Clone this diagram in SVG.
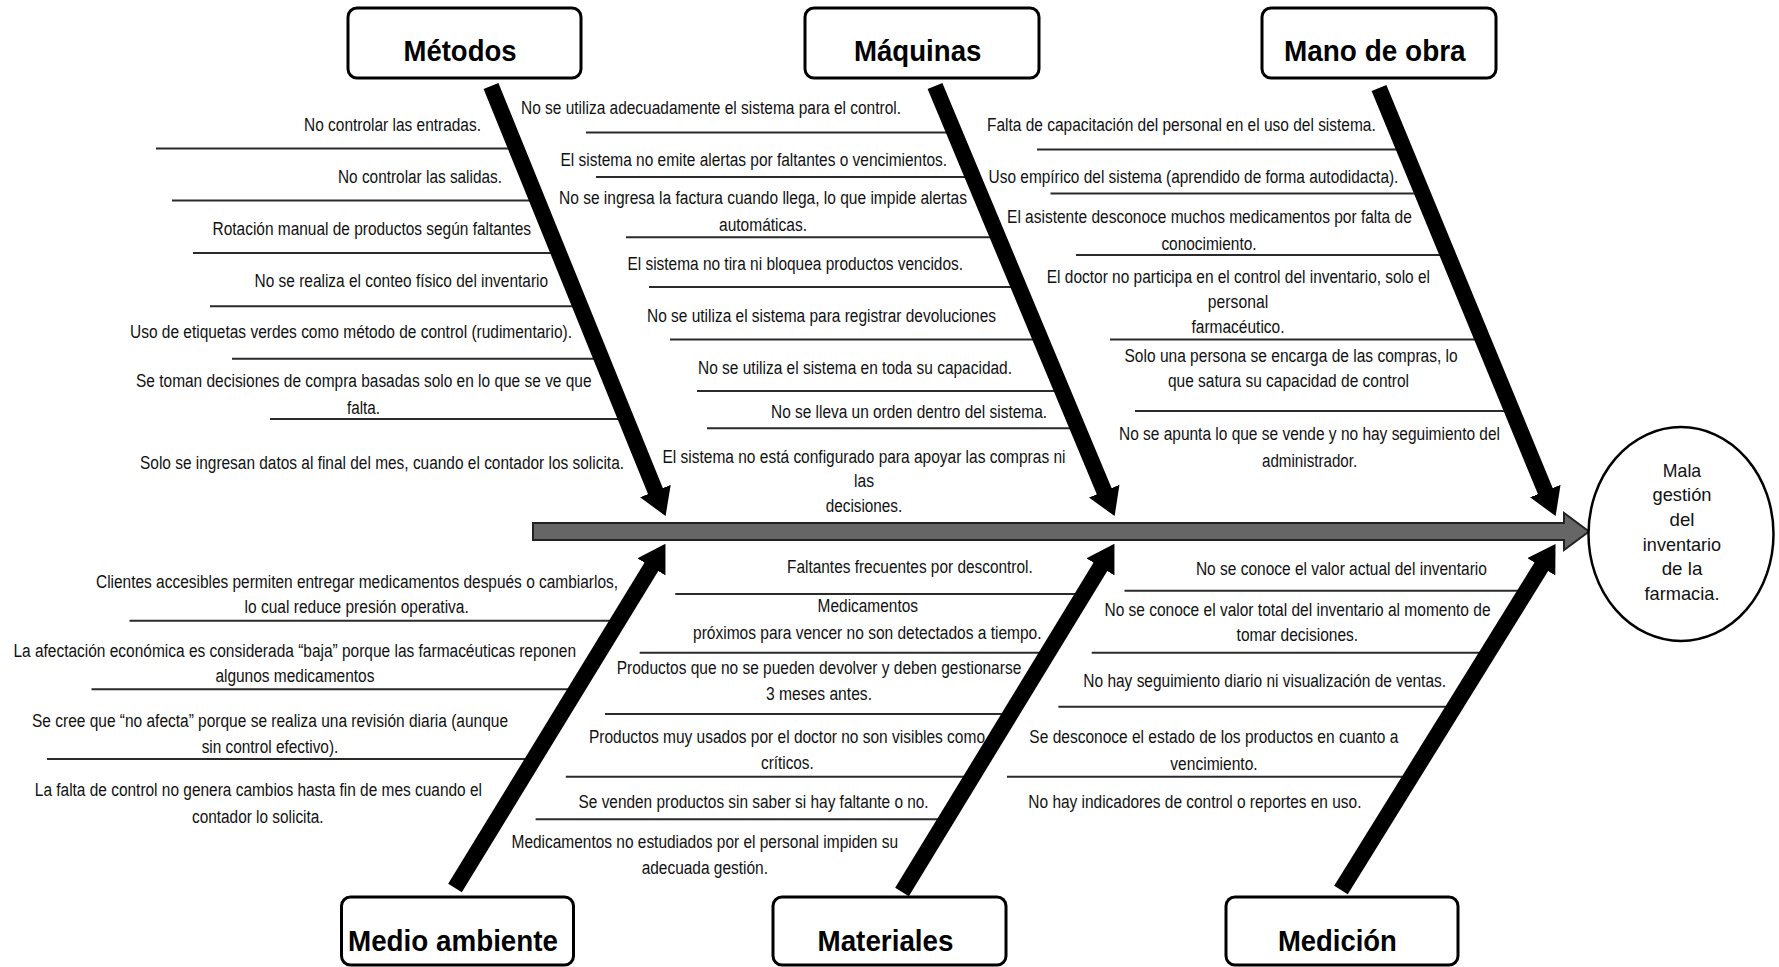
<svg xmlns="http://www.w3.org/2000/svg" width="1779" height="967" viewBox="0 0 1779 967">
<style>
.t{font-family:"Liberation Sans",Arial,sans-serif;font-size:18px;fill:#111;text-anchor:middle}
.lbl{font-family:"Liberation Sans",Arial,sans-serif;font-size:29px;font-weight:bold;fill:#000;text-anchor:middle}
.eff{font-family:"Liberation Sans",Arial,sans-serif;font-size:19px;fill:#111;text-anchor:middle}
.rib{stroke:#2a2a2a;stroke-width:2;fill:none}
.box{fill:#fff;stroke:#000;stroke-width:3}
.bone{stroke:#000;stroke-width:16;fill:none;marker-end:url(#ah)}
</style>
<defs>
<marker id="ah" viewBox="0 0 27 33" refX="1" refY="16.5" markerWidth="27" markerHeight="33" markerUnits="userSpaceOnUse" orient="auto">
<path d="M0,0 L27,16.5 L0,33 Z" fill="#000"/>
</marker>
</defs>
<rect width="1779" height="967" fill="#fff"/>

<g id="causes-metodos">
<line class="rib" x1="156" y1="148.6" x2="516" y2="148.6"/>
<line class="rib" x1="172" y1="200.5" x2="537" y2="200.5"/>
<line class="rib" x1="193" y1="252.9" x2="558" y2="252.9"/>
<line class="rib" x1="210" y1="306.3" x2="580" y2="306.3"/>
<line class="rib" x1="232" y1="358.7" x2="601" y2="358.7"/>
<line class="rib" x1="270" y1="419.1" x2="625" y2="419.1"/>
<text class="t" x="392.5" y="131" textLength="177" lengthAdjust="spacingAndGlyphs">No controlar las entradas.</text>
<text class="t" x="420" y="182.8" textLength="164" lengthAdjust="spacingAndGlyphs">No controlar las salidas.</text>
<text class="t" x="371.8" y="235.2" textLength="318.5" lengthAdjust="spacingAndGlyphs">Rotación manual de productos según faltantes</text>
<text class="t" x="401.3" y="286.6" textLength="293.5" lengthAdjust="spacingAndGlyphs">No se realiza el conteo físico del inventario</text>
<text class="t" x="351" y="338" textLength="442" lengthAdjust="spacingAndGlyphs">Uso de etiquetas verdes como método de control (rudimentario).</text>
<text class="t" x="363.8" y="387.3" textLength="455.5" lengthAdjust="spacingAndGlyphs">Se toman decisiones de compra basadas solo en lo que se ve que</text>
<text class="t" x="363.5" y="413.5" textLength="33" lengthAdjust="spacingAndGlyphs">falta.</text>
<text class="t" x="382" y="469" textLength="484" lengthAdjust="spacingAndGlyphs">Solo se ingresan datos al final del mes, cuando el contador los solicita.</text>
</g>

<g id="causes-maquinas">
<line class="rib" x1="586" y1="132.4" x2="954" y2="132.4"/>
<line class="rib" x1="596" y1="177.1" x2="973" y2="177.1"/>
<line class="rib" x1="626" y1="237.3" x2="998" y2="237.3"/>
<line class="rib" x1="649" y1="287.1" x2="1019" y2="287.1"/>
<line class="rib" x1="670" y1="339.5" x2="1040" y2="339.5"/>
<line class="rib" x1="697" y1="390.9" x2="1062" y2="390.9"/>
<line class="rib" x1="707" y1="428.2" x2="1078" y2="428.2"/>
<text class="t" x="711" y="113.8" textLength="380" lengthAdjust="spacingAndGlyphs">No se utiliza adecuadamente el sistema para el control.</text>
<text class="t" x="753.8" y="166.4" textLength="386.5" lengthAdjust="spacingAndGlyphs">El sistema no emite alertas por faltantes o vencimientos.</text>
<text class="t" x="763" y="204" textLength="408" lengthAdjust="spacingAndGlyphs">No se ingresa la factura cuando llega, lo que impide alertas</text>
<text class="t" x="763" y="230.7" textLength="88" lengthAdjust="spacingAndGlyphs">automáticas.</text>
<text class="t" x="795.2" y="269.5" textLength="335.6" lengthAdjust="spacingAndGlyphs">El sistema no tira ni bloquea productos vencidos.</text>
<text class="t" x="821.5" y="321.9" textLength="349" lengthAdjust="spacingAndGlyphs">No se utiliza el sistema para registrar devoluciones</text>
<text class="t" x="855" y="374.2" textLength="314" lengthAdjust="spacingAndGlyphs">No se utiliza el sistema en toda su capacidad.</text>
<text class="t" x="909" y="417.6" textLength="276" lengthAdjust="spacingAndGlyphs">No se lleva un orden dentro del sistema.</text>
<text class="t" x="864" y="462.9" textLength="403" lengthAdjust="spacingAndGlyphs">El sistema no está configurado para apoyar las compras ni</text>
<text class="t" x="864" y="487.1" textLength="20" lengthAdjust="spacingAndGlyphs">las</text>
<text class="t" x="864" y="512.3" textLength="76.5" lengthAdjust="spacingAndGlyphs">decisiones.</text>
</g>

<g id="causes-mano-de-obra">
<line class="rib" x1="1037" y1="149.6" x2="1404" y2="149.6"/>
<line class="rib" x1="1050.5" y1="193.4" x2="1422" y2="193.4"/>
<line class="rib" x1="1076" y1="254.9" x2="1447" y2="254.9"/>
<line class="rib" x1="1110" y1="339.5" x2="1482" y2="339.5"/>
<line class="rib" x1="1135" y1="411" x2="1511" y2="411"/>
<text class="t" x="1181.4" y="131" textLength="388.7" lengthAdjust="spacingAndGlyphs">Falta de capacitación del personal en el uso del sistema.</text>
<text class="t" x="1193.5" y="182.8" textLength="409.8" lengthAdjust="spacingAndGlyphs">Uso empírico del sistema (aprendido de forma autodidacta).</text>
<text class="t" x="1209.4" y="223.1" textLength="404.7" lengthAdjust="spacingAndGlyphs">El asistente desconoce muchos medicamentos por falta de</text>
<text class="t" x="1209" y="249.8" textLength="95.2" lengthAdjust="spacingAndGlyphs">conocimiento.</text>
<text class="t" x="1238.4" y="282.6" textLength="383.2" lengthAdjust="spacingAndGlyphs">El doctor no participa en el control del inventario, solo el</text>
<text class="t" x="1238" y="307.7" textLength="60.3" lengthAdjust="spacingAndGlyphs">personal</text>
<text class="t" x="1238" y="332.9" textLength="93" lengthAdjust="spacingAndGlyphs">farmacéutico.</text>
<text class="t" x="1291.1" y="362.1" textLength="333.2" lengthAdjust="spacingAndGlyphs">Solo una persona se encarga de las compras, lo</text>
<text class="t" x="1288.5" y="387.3" textLength="241.1" lengthAdjust="spacingAndGlyphs">que satura su capacidad de control</text>
<text class="t" x="1309.5" y="440.4" textLength="381" lengthAdjust="spacingAndGlyphs">No se apunta lo que se vende y no hay seguimiento del</text>
<text class="t" x="1309.6" y="466.6" textLength="95.2" lengthAdjust="spacingAndGlyphs">administrador.</text>
</g>

<g id="causes-medio-ambiente">
<line class="rib" x1="129.5" y1="620.7" x2="618" y2="620.7"/>
<line class="rib" x1="91.5" y1="689.3" x2="576" y2="689.3"/>
<line class="rib" x1="47" y1="759" x2="533.5" y2="759"/>
<text class="t" x="357" y="587.7" textLength="522" lengthAdjust="spacingAndGlyphs">Clientes accesibles permiten entregar medicamentos después o cambiarlos,</text>
<text class="t" x="356.7" y="613.3" textLength="224.2" lengthAdjust="spacingAndGlyphs">lo cual reduce presión operativa.</text>
<text class="t" x="294.7" y="656.7" textLength="562.6" lengthAdjust="spacingAndGlyphs">La afectación económica es considerada “baja” porque las farmacéuticas reponen</text>
<text class="t" x="294.9" y="681.7" textLength="159" lengthAdjust="spacingAndGlyphs">algunos medicamentos</text>
<text class="t" x="270" y="726.7" textLength="476" lengthAdjust="spacingAndGlyphs">Se cree que “no afecta” porque se realiza una revisión diaria (aunque</text>
<text class="t" x="270" y="753.3" textLength="136.6" lengthAdjust="spacingAndGlyphs">sin control efectivo).</text>
<text class="t" x="258.4" y="795.7" textLength="447.2" lengthAdjust="spacingAndGlyphs">La falta de control no genera cambios hasta fin de mes cuando el</text>
<text class="t" x="257.8" y="822.7" textLength="131.7" lengthAdjust="spacingAndGlyphs">contador lo solicita.</text>
</g>

<g id="causes-materiales">
<line class="rib" x1="675.3" y1="594" x2="1084.4" y2="594"/>
<line class="rib" x1="639.7" y1="652.7" x2="1048.5" y2="652.7"/>
<line class="rib" x1="605" y1="714" x2="1011" y2="714"/>
<line class="rib" x1="565.8" y1="776.7" x2="972.6" y2="776.7"/>
<line class="rib" x1="535.6" y1="819.3" x2="946.5" y2="819.3"/>
<text class="t" x="909.9" y="573.3" textLength="245.7" lengthAdjust="spacingAndGlyphs">Faltantes frecuentes por descontrol.</text>
<text class="t" x="867.8" y="612.3" textLength="100.4" lengthAdjust="spacingAndGlyphs">Medicamentos</text>
<text class="t" x="867.3" y="639" textLength="348.5" lengthAdjust="spacingAndGlyphs">próximos para vencer no son detectados a tiempo.</text>
<text class="t" x="819" y="674.3" textLength="404.5" lengthAdjust="spacingAndGlyphs">Productos que no se pueden devolver y deben gestionarse</text>
<text class="t" x="819" y="700" textLength="106" lengthAdjust="spacingAndGlyphs">3 meses antes.</text>
<text class="t" x="787" y="743.3" textLength="396" lengthAdjust="spacingAndGlyphs">Productos muy usados por el doctor no son visibles como</text>
<text class="t" x="787.4" y="769.3" textLength="52.8" lengthAdjust="spacingAndGlyphs">críticos.</text>
<text class="t" x="753.6" y="807.7" textLength="350.1" lengthAdjust="spacingAndGlyphs">Se venden productos sin saber si hay faltante o no.</text>
<text class="t" x="704.8" y="847.7" textLength="386.5" lengthAdjust="spacingAndGlyphs">Medicamentos no estudiados por el personal impiden su</text>
<text class="t" x="704.8" y="874.3" textLength="126.3" lengthAdjust="spacingAndGlyphs">adecuada gestión.</text>
</g>

<g id="causes-medicion">
<line class="rib" x1="1124.5" y1="590.7" x2="1525.3" y2="590.7"/>
<line class="rib" x1="1091.7" y1="652.7" x2="1487.1" y2="652.7"/>
<line class="rib" x1="1058.4" y1="706.7" x2="1453.8" y2="706.7"/>
<line class="rib" x1="1007" y1="776.7" x2="1410.7" y2="776.7"/>
<text class="t" x="1341.4" y="575" textLength="290.9" lengthAdjust="spacingAndGlyphs">No se conoce el valor actual del inventario</text>
<text class="t" x="1297.5" y="615.7" textLength="386.1" lengthAdjust="spacingAndGlyphs">No se conoce el valor total del inventario al momento de</text>
<text class="t" x="1297.4" y="641" textLength="121.6" lengthAdjust="spacingAndGlyphs">tomar decisiones.</text>
<text class="t" x="1264.7" y="686.7" textLength="362.7" lengthAdjust="spacingAndGlyphs">No hay seguimiento diario ni visualización de ventas.</text>
<text class="t" x="1213.9" y="743.3" textLength="369.1" lengthAdjust="spacingAndGlyphs">Se desconoce el estado de los productos en cuanto a</text>
<text class="t" x="1214" y="770" textLength="87.3" lengthAdjust="spacingAndGlyphs">vencimiento.</text>
<text class="t" x="1194.9" y="807.7" textLength="333.1" lengthAdjust="spacingAndGlyphs">No hay indicadores de control o reportes en uso.</text>
</g>

<g id="connectors">
<path d="M533,523 H1564 V513 L1589,531.5 L1564,550 V540 H533 Z" fill="#666" stroke="#222" stroke-width="2" stroke-linejoin="miter"/>
<line class="bone" x1="491" y1="86" x2="655.8" y2="492"/>
<line class="bone" x1="935" y1="86" x2="1104.6" y2="492.1"/>
<line class="bone" x1="1379" y1="88" x2="1545.7" y2="492"/>
<line class="bone" x1="455" y1="888" x2="651.9" y2="566"/>
<line class="bone" x1="902" y1="892" x2="1100.9" y2="566"/>
<line class="bone" x1="1341" y1="890" x2="1541.8" y2="566"/>
</g>

<g id="node-metodos">
<rect class="box" x="348" y="8" width="233" height="70" rx="9"/>
<text class="lbl" x="460" y="61" textLength="113" lengthAdjust="spacingAndGlyphs">Métodos</text>
</g>
<g id="node-maquinas">
<rect class="box" x="805" y="8" width="234" height="70" rx="9"/>
<text class="lbl" x="917.7" y="61" textLength="127.4" lengthAdjust="spacingAndGlyphs">Máquinas</text>
</g>
<g id="node-mano-de-obra">
<rect class="box" x="1262" y="8" width="234" height="70" rx="9"/>
<text class="lbl" x="1374.8" y="61" textLength="181.6" lengthAdjust="spacingAndGlyphs">Mano de obra</text>
</g>
<g id="node-medio-ambiente">
<rect class="box" x="341.5" y="897" width="232" height="68" rx="9"/>
<text class="lbl" x="453" y="951" textLength="210" lengthAdjust="spacingAndGlyphs">Medio ambiente</text>
</g>
<g id="node-materiales">
<rect class="box" x="773" y="897" width="233" height="68" rx="9"/>
<text class="lbl" x="885.5" y="951" textLength="136" lengthAdjust="spacingAndGlyphs">Materiales</text>
</g>
<g id="node-medicion">
<rect class="box" x="1226" y="897" width="232" height="68" rx="9"/>
<text class="lbl" x="1337.4" y="951" textLength="119" lengthAdjust="spacingAndGlyphs">Medición</text>
</g>

<g id="node-efecto">
<ellipse cx="1681" cy="534" rx="92.5" ry="107" fill="#fff" stroke="#000" stroke-width="2.5"/>
<text class="eff" x="1682" y="476.5" textLength="38.3" lengthAdjust="spacingAndGlyphs">Mala</text>
<text class="eff" x="1682" y="501.2" textLength="59" lengthAdjust="spacingAndGlyphs">gestión</text>
<text class="eff" x="1682" y="525.9" textLength="25" lengthAdjust="spacingAndGlyphs">del</text>
<text class="eff" x="1682" y="550.6" textLength="78.3" lengthAdjust="spacingAndGlyphs">inventario</text>
<text class="eff" x="1682" y="575.3" textLength="40.7" lengthAdjust="spacingAndGlyphs">de la</text>
<text class="eff" x="1682" y="600" textLength="75" lengthAdjust="spacingAndGlyphs">farmacia.</text>
</g>
</svg>
